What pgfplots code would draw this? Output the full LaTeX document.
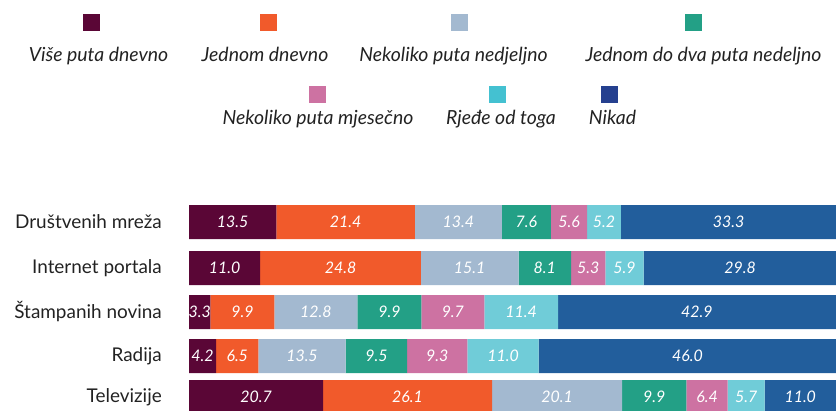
\documentclass[border=0pt]{standalone}
\usepackage{pgfplots}
\usepackage{pgfplotstable}
\pgfplotsset{compat=1.18}
\usepackage{fontspec}
\setmainfont{Lato}
\definecolor{c1}{HTML}{5A0636}
\definecolor{c2}{HTML}{F15A2B}
\definecolor{c3}{HTML}{A3B9D0}
\definecolor{c4}{HTML}{23A086}
\definecolor{c5}{HTML}{CD72A2}
\definecolor{c6}{HTML}{70CCD8}
\definecolor{c7}{HTML}{225E9C}
\definecolor{l6}{HTML}{44C1D1}
\definecolor{l7}{HTML}{25408F}
\definecolor{txt}{HTML}{222222}

\pgfplotstableread{
y   a    b    c    d   e   f    g
188 13.5 21.4 13.4 7.6 5.6 5.2  33.3
142 11.0 24.8 15.1 8.1 5.3 5.9  29.8
98  3.3  9.9  12.8 9.9 9.7 11.4 42.9
54  4.2  6.5  13.5 9.5 9.3 11.0 46.0
13  20.7 26.1 20.1 9.9 6.4 5.7  11.0
}\data

\begin{document}
\begin{tikzpicture}[x=1bp,y=1bp]
\useasboundingbox (0,0) rectangle (836,410);
% legend swatches
\fill[c1] (83,379) rectangle (100,396);
\fill[c2] (260,379) rectangle (277,396);
\fill[c3] (451,379) rectangle (468,396);
\fill[c4] (685,379) rectangle (702,396);
\fill[c5] (309,307) rectangle (326,324);
\fill[l6] (489,307) rectangle (506,324);
\fill[l7] (601,307) rectangle (618,324);
% legend texts
\begin{scope}[every node/.style={anchor=base, inner sep=0pt, text=txt, font=\itshape\fontsize{19.5}{22}\selectfont}]
\node at (98.5,349) {Više puta dnevno};
\node at (265,349) {Jednom dnevno};
\node at (453.5,349) {Nekoliko puta nedjeljno};
\node at (703.5,349) {Jednom do dva puta nedeljno};
\node at (318,286) {Nekoliko puta mjesečno};
\node at (501,286) {Rjeđe od toga};
\node at (612.5,286) {Nikad};
\end{scope}
\begin{axis}[
  at={(189bp,0bp)}, anchor=south west,
  scale only axis, width=647.5bp, height=410bp,
  xmin=0, xmax=100, ymin=0, ymax=410,
  xbar stacked, bar width=34bp,
  axis line style={draw=none},
  major tick length=0pt,
  xtick=\empty,
  ytick={13,54,98,142,188},
  yticklabels={Televizije,Radija,Štampanih novina,Internet portala,Društvenih mreža},
  yticklabel style={font=\fontsize{19}{22}\selectfont, text=txt, anchor=east, inner sep=0pt, xshift=-27bp},
  nodes near coords={\pgfmathprintnumber[fixed,fixed zerofill,precision=1,assume math mode=true]{\pgfplotspointmeta}},
  every node near coord/.append style={font=\itshape\fontsize{16}{18}\selectfont, text=white, anchor=center},
]
\addplot[fill=c1, draw=none] table[x=a,y=y]{\data};
\addplot[fill=c2, draw=none] table[x=b,y=y]{\data};
\addplot[fill=c3, draw=none] table[x=c,y=y]{\data};
\addplot[fill=c4, draw=none] table[x=d,y=y]{\data};
\addplot[fill=c5, draw=none] table[x=e,y=y]{\data};
\addplot[fill=c6, draw=none] table[x=f,y=y]{\data};
\addplot[fill=c7, draw=none] table[x=g,y=y]{\data};
\end{axis}
\end{tikzpicture}
\end{document}
